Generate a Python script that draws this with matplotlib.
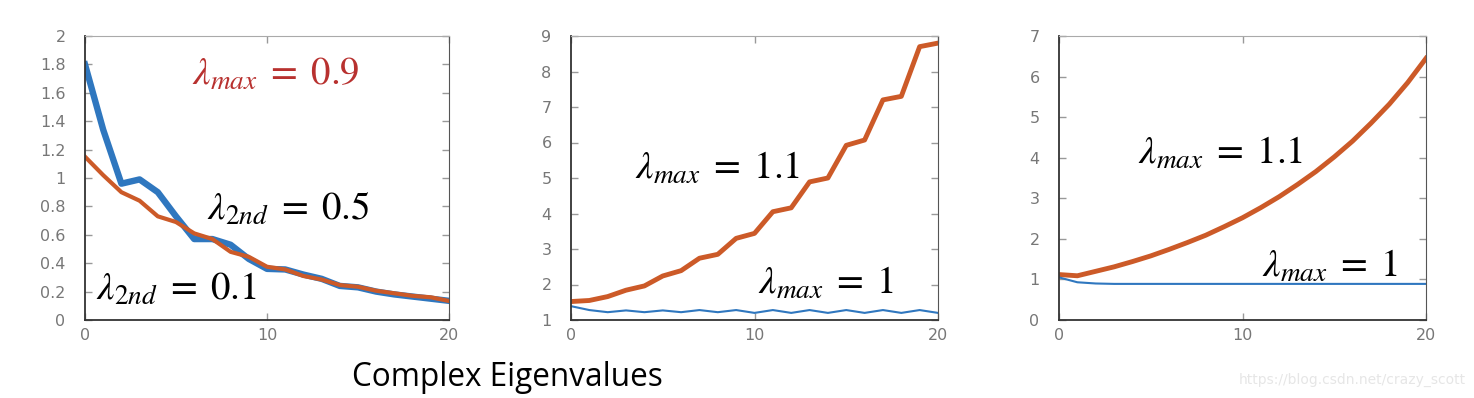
import matplotlib
matplotlib.use('Agg')
import matplotlib.pyplot as plt

plt.rcParams['mathtext.fontset'] = 'stix'

steps = list(range(21))

# panel 1: damped, complex eigenvalues
p1_blue = [1.80, 1.34, 0.96, 0.99, 0.90, 0.73, 0.57, 0.57, 0.53, 0.43, 0.36,
           0.356, 0.32, 0.29, 0.24, 0.23, 0.20, 0.18, 0.165, 0.15, 0.135]
p1_orange = [1.15, 1.02, 0.90, 0.84, 0.73, 0.69, 0.61, 0.57, 0.48, 0.445, 0.375,
             0.356, 0.31, 0.285, 0.246, 0.234, 0.206, 0.188, 0.17, 0.16, 0.134]

# panel 2: complex eigenvalues, growing
p2_orange = [1.52, 1.55, 1.66, 1.84, 1.96, 2.24, 2.39, 2.74, 2.85, 3.30, 3.44,
             4.05, 4.16, 4.89, 5.00, 5.92, 6.07, 7.20, 7.30, 8.70, 8.80]
p2_blue = [1.39, 1.28, 1.22, 1.27, 1.22, 1.27, 1.22, 1.28, 1.22, 1.28, 1.20,
           1.28, 1.20, 1.28, 1.20, 1.28, 1.20, 1.28, 1.20, 1.28, 1.20]

# panel 3: real eigenvalues
p3_orange = [1.12, 1.09, 1.20, 1.31, 1.44, 1.58, 1.74, 1.91, 2.09, 2.30, 2.52,
             2.77, 3.04, 3.34, 3.66, 4.02, 4.41, 4.85, 5.32, 5.85, 6.45]
p3_blue = [1.05, 0.93, 0.90, 0.89, 0.89, 0.89, 0.89, 0.89, 0.89, 0.89, 0.89,
           0.89, 0.89, 0.89, 0.89, 0.89, 0.89, 0.89, 0.89, 0.89, 0.89]

BLUE = '#2f77bf'
ORANGE = '#cc5a28'
RED = '#b8312f'
TICK_GRAY = '#777777'
FS = 28

fig = plt.figure(figsize=(14.74, 3.98), dpi=100)

def px_axes(x0, x1, y0=36, y1=320):
    W, H = 1474, 398
    return fig.add_axes([x0 / W, 1 - y1 / H, (x1 - x0) / W, (y1 - y0) / H])

def style(ax, ylim, yticks, ylabels):
    ax.set_xlim(0, 20)
    ax.set_ylim(*ylim)
    ax.set_xticks([0, 10, 20])
    ax.set_yticks(yticks)
    ax.set_yticklabels(ylabels)
    ax.tick_params(direction='in', length=5, width=1, color='#999999',
                   labelcolor=TICK_GRAY, labelsize=11.5, top=True, right=True,
                   pad=14)
    ax.tick_params(axis='x', pad=6)
    ax.spines['left'].set_color('#333333')
    ax.spines['bottom'].set_color('#333333')
    ax.spines['left'].set_linewidth(1.3)
    ax.spines['bottom'].set_linewidth(1.3)
    ax.spines['top'].set_color('#aaaaaa')
    ax.spines['right'].set_color('#555555')

def label(ax, x, y, s, color='black'):
    ax.text(x, y, s, color=color, fontsize=FS, va='center', ha='left')

ax1 = px_axes(85, 449)
ax1.plot(steps, p1_blue, color=BLUE, lw=4.6)
ax1.plot(steps, p1_orange, color=ORANGE, lw=3)
style(ax1, (0, 2), [i * 0.2 for i in range(11)],
      ['0', '0.2', '0.4', '0.6', '0.8', '1', '1.2', '1.4', '1.6', '1.8', '2'])
label(ax1, 5.88, 1.73, r'$\lambda_{max}\;=\;0.9$', RED)
label(ax1, 6.70, 0.78, r'$\lambda_{2nd}\;=\;0.5$')
label(ax1, 0.60, 0.22, r'$\lambda_{2nd}\;=\;0.1$')

ax2 = px_axes(571, 938)
ax2.plot(steps, p2_orange, color=ORANGE, lw=3.5)
ax2.plot(steps, p2_blue, color=BLUE, lw=1.5)
style(ax2, (1, 9), list(range(1, 10)), [str(i) for i in range(1, 10)])
label(ax2, 3.49, 5.28, r'$\lambda_{max}\;=\;1.1$')
label(ax2, 10.19, 2.04, r'$\lambda_{max}\;=\;1$')

ax3 = px_axes(1059, 1426)
ax3.plot(steps, p3_orange, color=ORANGE, lw=3.5)
ax3.plot(steps, p3_blue, color=BLUE, lw=1.5)
style(ax3, (0, 7), list(range(8)), [str(i) for i in range(8)])
label(ax3, 4.31, 4.11, r'$\lambda_{max}\;=\;1.1$')
label(ax3, 11.06, 1.33, r'$\lambda_{max}\;=\;1$')

fig.text(352 / 1474, 1 - 377 / 398, 'Complex Eigenvalues', family='Open Sans',
         fontsize=22.7, ha='left', va='center')
fig.text(1239 / 1474, 1 - 380 / 398, 'https://blog.csdn.net/crazy_scott',
         color='#e6e6e6', fontsize=10, ha='left', va='center')

fig.savefig('out.png', dpi=100)
